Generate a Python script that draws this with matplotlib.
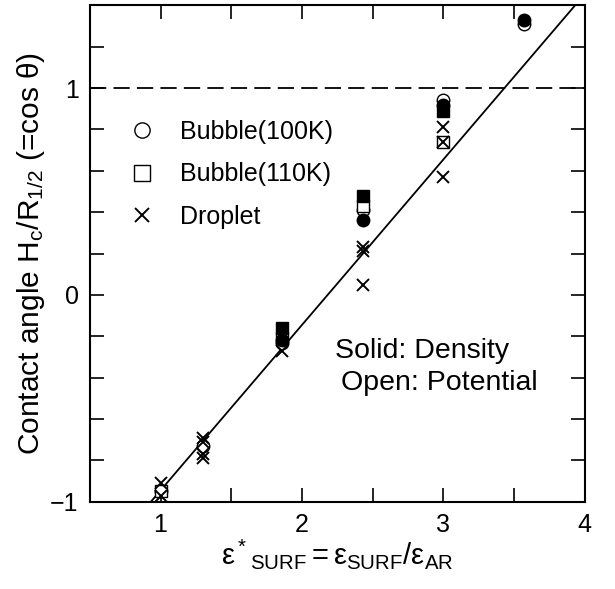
import matplotlib.pyplot as plt
from matplotlib.ticker import MultipleLocator

plt.rcParams['font.family'] = ['Liberation Sans', 'DejaVu Sans']
plt.rcParams['mathtext.fontset'] = 'custom'
plt.rcParams['mathtext.rm'] = 'Liberation Sans'
plt.rcParams['mathtext.it'] = 'Liberation Sans'

# Bubble 100K
b100_den_x = [1.86, 2.43, 3.0, 3.57]
b100_den_y = [-0.22, 0.36, 0.92, 1.33]
b100_pot_x = [1.0, 1.3, 1.86, 2.43, 3.0, 3.57]
b100_pot_y = [-0.95, -0.73, -0.23, 0.41, 0.94, 1.31]
# Bubble 110K
b110_den_x = [1.86, 2.43, 3.0]
b110_den_y = [-0.16, 0.48, 0.89]
b110_pot_x = [1.0, 1.86, 2.43, 3.0]
b110_pot_y = [-0.95, -0.21, 0.43, 0.74]
# Droplet
drop_x = [1.0, 1.0, 1.3, 1.3, 1.3, 1.3, 1.86, 2.43, 2.43, 2.43, 3.0, 3.0, 3.0]
drop_y = [-0.91, -0.97, -0.69, -0.71, -0.77, -0.79, -0.27, 0.23, 0.21, 0.05, 0.81, 0.74, 0.57]

# fitted line
line_x = [0.5, 4.0]
slope, icpt = 0.8, -1.745

fs = 18

fig = plt.figure(figsize=(6.15, 5.89), dpi=100)
ax = fig.add_axes([0.146, 0.148, 0.805, 0.843])

ax.plot(line_x, [slope * v + icpt for v in line_x], color='black', lw=1.3)
ax.axhline(1.0, color='black', lw=1.3, dashes=(9, 4))

ms = 9
ax.plot(b100_pot_x, b100_pot_y, 'o', mfc='white', mec='black', ms=ms, mew=1.0, ls='none')
ax.plot(b110_pot_x, b110_pot_y, 's', mfc='white', mec='black', ms=ms, mew=1.0, ls='none')
ax.plot(b100_den_x, b100_den_y, 'o', color='black', ms=ms, ls='none')
ax.plot(b110_den_x, b110_den_y, 's', color='black', ms=ms, ls='none')
ax.plot(drop_x, drop_y, 'x', color='black', ms=ms, mew=1.4, ls='none')

# legend (open symbols)
h1, = ax.plot([], [], 'o', mfc='white', mec='black', ms=11, mew=1.0, ls='none')
h2, = ax.plot([], [], 's', mfc='white', mec='black', ms=12, mew=1.0, ls='none')
h3, = ax.plot([], [], 'x', color='black', ms=10, mew=1.4, ls='none')
ax.legend([h1, h2, h3], ['Bubble(100K)', 'Bubble(110K)', 'Droplet'],
          loc='upper left', bbox_to_anchor=(0.055, 0.79), frameon=False,
          fontsize=fs, handlelength=1.2, handletextpad=0.9, labelspacing=0.75,
          borderaxespad=0)

ax.text(0.495, 0.303, 'Solid: Density', transform=ax.transAxes, fontsize=20.5, va='center')
ax.text(0.508, 0.240, 'Open: Potential', transform=ax.transAxes, fontsize=20.5, va='center')

ax.set_xlim(0.5, 4.0)
ax.set_ylim(-1.0, 1.4)
ax.xaxis.set_major_locator(MultipleLocator(1))
ax.xaxis.set_minor_locator(MultipleLocator(0.5))
ax.yaxis.set_minor_locator(MultipleLocator(0.2))
ax.set_yticks([-1, 0, 1])
ax.set_yticklabels(['\u22121', '0', '1'])
ax.tick_params(which='both', direction='in', top=True, right=True, length=10, width=1.2,
               labelsize=fs, pad=8)
for s in ax.spines.values():
    s.set_linewidth(1.5)

ax.set_xlabel(r'$\mathregular{ε^*{}_{SURF}{=}ε_{SURF}/ε_{AR}}$', fontsize=21, labelpad=0)
ax.set_ylabel(r'Contact angle H$\mathregular{_c}$/R$\mathregular{_{1/2}}$ (=cos θ)',
              fontsize=21.5, labelpad=2)

fig.savefig('out.png', dpi=100)
